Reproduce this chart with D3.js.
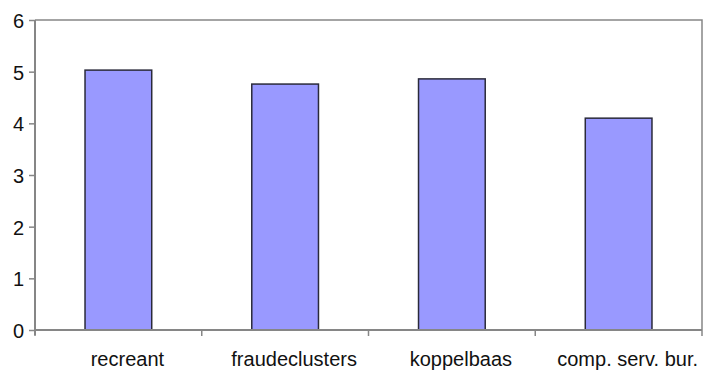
<!DOCTYPE html>
<html><head><meta charset="utf-8">
<script src="https://cdn.jsdelivr.net/npm/d3@7/dist/d3.min.js"></script>
<style>body{margin:0;background:#fff;}svg{display:block;}</style>
</head><body>
<script>
const categories = ["recreant", "fraudeclusters", "koppelbaas", "comp. serv. bur."];
const values = [5.03, 4.76, 4.86, 4.10];
const yTicks = [0, 1, 2, 3, 4, 5, 6];

const W = 708, H = 371;
const L = 35, R = 702, T = 20, B = 330;
const svg = d3.select("body").append("svg").attr("width", W).attr("height", H);

const x = d3.scaleBand().domain(categories).range([L, R]).paddingInner(0).paddingOuter(0);
const y = d3.scaleLinear().domain([0, 6]).range([B, T]);
const bw = x.bandwidth() * 0.4;

// plot border (top & right)
svg.append("path").attr("d", `M${L},${T}H${R}V${B}`)
  .attr("fill", "none").attr("stroke", "#868686").attr("stroke-width", 1.5);

// bars
svg.selectAll("rect.bar").data(categories).enter().append("rect")
  .attr("class", "bar")
  .attr("x", d => x(d) + (x.bandwidth() - bw) / 2)
  .attr("y", (d, i) => y(values[i]))
  .attr("width", bw)
  .attr("height", (d, i) => y(0) - y(values[i]))
  .attr("fill", "#9999ff").attr("stroke", "#2a2a3a").attr("stroke-width", 1.5);

// y axis
const yAxis = d3.axisLeft(y).tickValues(yTicks).tickFormat(d3.format("d")).tickSize(6).tickPadding(5);
const gy = svg.append("g").attr("transform", `translate(${L},0)`).call(yAxis);
gy.select(".domain").attr("stroke", "#868686").attr("stroke-width", 2).attr("d", `M0,${T}V${B + 5}`);
gy.selectAll(".tick line").attr("stroke", "#868686").attr("stroke-width", 1.5);
gy.selectAll(".tick text").attr("font-family", "Liberation Sans, Arial, sans-serif")
  .attr("font-size", 20).attr("fill", "#111").attr("dy", "0.38em");

// x axis
const gx = svg.append("g").attr("transform", `translate(0,${B})`);
gx.append("line").attr("x1", L).attr("x2", R).attr("y1", 0).attr("y2", 0)
  .attr("stroke", "#868686").attr("stroke-width", 2);
const bounds = categories.map(c => x(c)).concat([x(categories[categories.length - 1]) + x.bandwidth()]);
gx.selectAll("line.tk").data(bounds).enter().append("line").attr("class", "tk")
  .attr("x1", d => d).attr("x2", d => d).attr("y1", 0).attr("y2", 6)
  .attr("stroke", "#868686").attr("stroke-width", 1.5);
gx.selectAll("text").data(categories).enter().append("text")
  .attr("x", d => x(d) + x.bandwidth() / 2 + 9)
  .attr("y", 36)
  .attr("text-anchor", "middle")
  .attr("font-family", "Liberation Sans, Arial, sans-serif")
  .attr("font-size", 20).attr("fill", "#111")
  .text(d => d);
</script>
</body></html>
